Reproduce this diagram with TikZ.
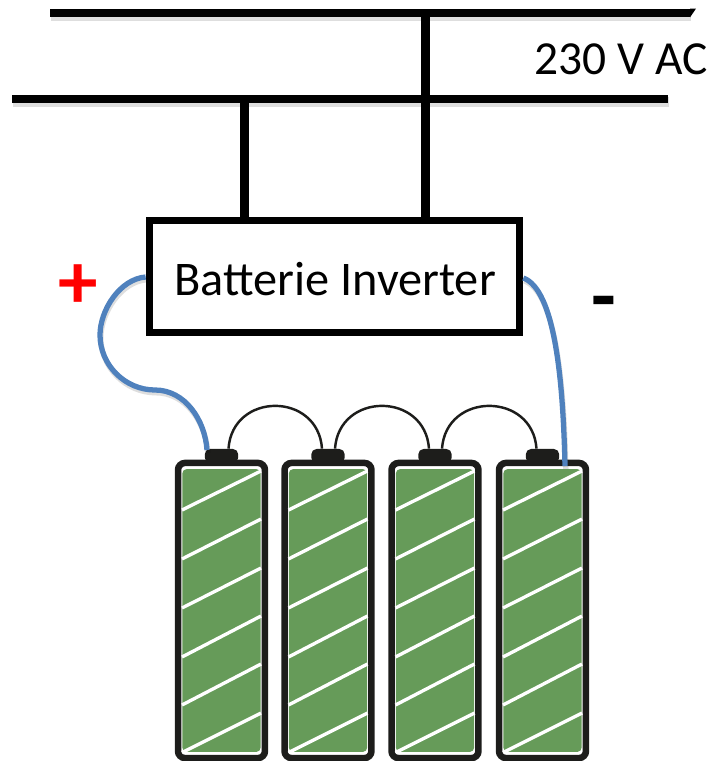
\documentclass[tikz,border=0pt]{standalone}
\usepackage{fontspec}
\setmainfont{Carlito}
\usepackage{tikz}
\usetikzlibrary{positioning}

\definecolor{cellgreen}{HTML}{669B59}
\definecolor{cablblue}{HTML}{4F81BD}
\definecolor{casing}{HTML}{1D1D1B}

\tikzset{
	softshadow/.style={preaction={draw=black,opacity=0.13,line width=#1,transform canvas={xshift=0.5pt,yshift=-1.6pt}}},
	busline/.style={line width=5pt,softshadow=6pt},
	cable/.style={draw=cablblue,line width=3pt,softshadow=3pt},
	jumper/.style={draw=casing,line width=1.4pt},
	inverterbox/.style={draw,fill=white,line width=4pt,minimum width=211pt,minimum height=64pt},
	batterycase/.style={draw=casing,fill=white,line width=3.7pt,rounded corners=4pt,minimum width=49.5pt,minimum height=168pt,inner sep=0pt},
	batterycell/.style={fill=cellgreen,rounded corners=2.5pt,minimum width=44.6pt,minimum height=161pt,inner sep=0pt},
	batterycap/.style={fill=casing,rounded corners=3pt,minimum width=19pt,minimum height=8pt,inner sep=0pt},
	stripe/.style={draw=white,line width=1.9pt}
}

\begin{document}
\begin{tikzpicture}[x=0.02cm,y=-0.02cm]
	\useasboundingbox (0,0) rectangle (713,761);

	% the two bus bars
	\coordinate (busaw) at (50,13);
	\coordinate (busae) at (690,13);
	\coordinate (busbw) at (12,99);
	\coordinate (busbe) at (668,99);
	\coordinate (tapa) at (425.5,13);
	\coordinate (tapb) at (244.5,99);

	\node[inverterbox] (inv) at (334.5,276.5) {};
	\node at (335,279) [font=\fontsize{27.5}{30}\selectfont] (invlabel) {Batterie Inverter};
	\node at (621,59) [font=\fontsize{27}{30}\selectfont] (aclabel) {230 V AC};
	\node at (78,287) [text=red,font=\bfseries\fontsize{45}{45}\selectfont,inner sep=0pt] (plus) {+};
	\node at (604,310) [font=\bfseries\fontsize{46}{46}\selectfont,inner sep=0pt] (minus) {-};

	\draw[busline] (busaw) -- (busae);
	\fill (690,8.6) -- (696,8.6) -- (690,17.4) -- cycle;
	\draw[busline] (busbw) -- (busbe);
	\draw[line width=5pt] (tapa) -- (tapa |- inv.north);
	\draw[line width=5pt] (tapb) -- (tapb |- inv.north);

	% batteries
	\foreach \i/\xpos in {1/221.5,2/328,3/435,4/542.5} {
		\node[batterycap] (cap\i) at (\xpos,456) {};
		\node[batterycase] (bat\i) at (\xpos,610.5) {};
		\node[batterycell] (cell\i) at (bat\i.center) {};
		\foreach \yl/\yr in {510/471,559/519,608/568,657/616,705/664,752.5/713} {
			\draw[stripe] ([xshift=-39.5*0.02cm]cell\i.center |- 0,\yl) -- ([xshift=39.5*0.02cm]cell\i.center |- 0,\yr);
		}
	}

	% jumpers between the caps
	\foreach \a/\b in {1/2,2/3,3/4} {
		\coordinate (outa\a) at ([xshift=7*0.02cm]cap\a.north);
		\coordinate (inb\b) at ([xshift=-6*0.02cm]cap\b.north);
		\draw[jumper] (outa\a) .. controls +(4,-57) and +(-4,-57) .. (inb\b);
	}

	% cables to the inverter
	\coordinate (plusend) at (207,450);
	\coordinate (minusend) at (565,466);
	\draw[cable] (inv.west |- 0,277) .. controls (120,279) and (100,310) .. (100,335)
		.. controls (100,365) and (125,390) .. (155,390)
		.. controls (185,390) and (205,420) .. (plusend);
	\draw[cable] (inv.east |- 0,278) .. controls (555,290) and (563,380) .. (minusend);
\end{tikzpicture}
\end{document}
